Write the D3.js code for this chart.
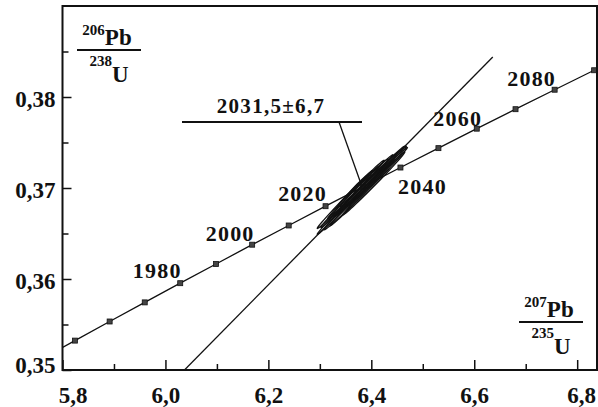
<!DOCTYPE html>
<html>
<head>
<meta charset="utf-8">
<script src="https://cdn.jsdelivr.net/npm/d3@7"></script>
<style>
  body { margin: 0; background: #fff; }
  text { font-family: "Liberation Serif", "DejaVu Serif", serif; font-weight: bold; fill: #111; }
</style>
</head>
<body>
<div id="chart"></div>
<script>
// concordia points, every 10 Ma (207Pb/235U, 206Pb/238U)
const ages = [1940, 1950, 1960, 1970, 1980, 1990, 2000, 2010, 2020, 2030, 2040, 2050, 2060, 2070, 2080, 2090];
const pb207u235 = [5.7572, 5.8241, 5.8916, 5.9598, 6.0287, 6.0983, 6.1685, 6.2395, 6.3111, 6.3835, 6.4566, 6.5304, 6.6049, 6.6802, 6.7562, 6.8329];
const pb206u238 = [0.35113, 0.35323, 0.35533, 0.35743, 0.35954, 0.36165, 0.36377, 0.36588, 0.36800, 0.37013, 0.37225, 0.37438, 0.37652, 0.37866, 0.38080, 0.38294];
const labelledAges = [1980, 2000, 2020, 2040, 2060, 2080];

// discordia end points
const discX = [6.037, 6.636];
const discY = [0.35, 0.3844];

// error ellipses: centre, sigma and correlation
const ellX   = [6.380, 6.372, 6.390, 6.365, 6.395, 6.385, 6.370, 6.400, 6.360, 6.378, 6.388, 6.368, 6.405];
const ellSx  = [0.085, 0.070, 0.060, 0.050, 0.075, 0.040, 0.030, 0.045, 0.065, 0.055, 0.080, 0.035, 0.060];
const ellY   = [0.36975, 0.36965, 0.37035, 0.36950, 0.37015, 0.37010, 0.36970, 0.37065, 0.36930, 0.37000, 0.37000, 0.36985, 0.37050];
const ellSy  = [0.00485, 0.00400, 0.00345, 0.00290, 0.00430, 0.00235, 0.00175, 0.00260, 0.00375, 0.00318, 0.00460, 0.00205, 0.00345];
const ellRho = [0.997, 0.996, 0.995, 0.994, 0.997, 0.990, 0.985, 0.993, 0.996, 0.992, 0.995, 0.988, 0.996];

const xTicks = [5.8, 6.0, 6.2, 6.4, 6.6, 6.8];
const xMinor = [5.9, 6.1, 6.3, 6.5, 6.7];
const yTicks = [0.35, 0.36, 0.37, 0.38];
const yMinor = [0.355, 0.365, 0.375, 0.385];
const fmt = d => d3.format(".2~f")(d).replace(".", ",");
const fmtX = d => d3.format(".1f")(d).replace(".", ",");

const width = 598, height = 407;
const mLeft = 62.5, mRight = 597, mTop = 6, mBottom = 370;

const svg = d3.select("#chart").append("svg")
  .attr("width", width)
  .attr("height", height);

const x = d3.scaleLinear().domain([5.8, 6.8385]).range([mLeft, mRight]);
const y = d3.scaleLinear().domain([0.35, 0.39]).range([mBottom, mTop]);

svg.append("clipPath").attr("id", "clip")
  .append("rect")
  .attr("x", mLeft).attr("y", mTop)
  .attr("width", mRight - mLeft).attr("height", mBottom - mTop);

const plot = svg.append("g").attr("clip-path", "url(#clip)");

// concordia
const conc = ages.map((a, i) => ({ age: a, x: pb207u235[i], y: pb206u238[i] }));
plot.append("path")
  .datum(conc)
  .attr("fill", "none")
  .attr("stroke", "#111")
  .attr("stroke-width", 1.3)
  .attr("d", d3.line().x(d => x(d.x)).y(d => y(d.y)));

plot.selectAll("rect.mark")
  .data(conc)
  .enter()
  .append("rect")
  .attr("class", "mark")
  .attr("x", d => x(d.x) - 2.5)
  .attr("y", d => y(d.y) - 2.5)
  .attr("width", 5)
  .attr("height", 5)
  .attr("fill", "#444")
  .attr("stroke", "#111")
  .attr("stroke-width", 0.8);

// discordia
plot.append("line")
  .attr("x1", x(discX[0])).attr("y1", y(discY[0]))
  .attr("x2", x(discX[1])).attr("y2", y(discY[1]))
  .attr("stroke", "#111")
  .attr("stroke-width", 1.3);

// ellipses
const ell = ellX.map((cx, i) => {
  const pts = d3.range(0, 361, 6).map(deg => {
    const t = deg * Math.PI / 180;
    return [cx + ellSx[i] * Math.cos(t),
            ellY[i] + ellSy[i] * (ellRho[i] * Math.cos(t) + Math.sqrt(1 - ellRho[i] * ellRho[i]) * Math.sin(t))];
  });
  return pts;
});
plot.selectAll("path.ell")
  .data(ell)
  .enter()
  .append("path")
  .attr("class", "ell")
  .attr("fill", "none")
  .attr("stroke", "#111")
  .attr("stroke-width", 1.3)
  .attr("d", d3.line().x(d => x(d[0])).y(d => y(d[1])).curve(d3.curveLinearClosed));

// age labels
const offs = { 1980: [-23, -5], 2000: [-22, -4], 2020: [-23, -5], 2040: [22, 26], 2060: [-19, -3], 2080: [-23, -4] };
svg.selectAll("text.age")
  .data(conc.filter(d => labelledAges.includes(d.age)))
  .enter()
  .append("text")
  .attr("class", "age")
  .attr("x", d => x(d.x) + offs[d.age][0])
  .attr("y", d => y(d.y) + offs[d.age][1])
  .attr("text-anchor", "middle")
  .attr("font-size", 22)
  .attr("letter-spacing", 1.2)
  .text(d => d.age);

// annotation of intercept age
svg.append("text")
  .attr("x", 271).attr("y", 113)
  .attr("text-anchor", "middle")
  .attr("font-size", 21)
  .attr("letter-spacing", 1.3)
  .text("2031,5±6,7");
svg.append("line")
  .attr("x1", 182).attr("y1", 122).attr("x2", 362).attr("y2", 122)
  .attr("stroke", "#111").attr("stroke-width", 2);
svg.append("line")
  .attr("x1", 339).attr("y1", 122).attr("x2", 360).attr("y2", 181)
  .attr("stroke", "#111").attr("stroke-width", 1.3);

// axes
const xAxis = svg.append("g")
  .attr("transform", `translate(0,${mBottom})`)
  .call(d3.axisBottom(x).tickValues(xTicks).tickSizeInner(-10).tickSizeOuter(0).tickPadding(17).tickFormat(fmtX));
svg.append("g")
  .attr("transform", `translate(0,${mBottom})`)
  .call(d3.axisBottom(x).tickValues(xMinor).tickSizeInner(-6).tickSizeOuter(0).tickFormat(""))
  .select(".domain").remove();
xAxis.select(".domain").remove();
xAxis.selectAll(".tick text")
  .attr("font-size", 23)
  .attr("dx", d => d === 5.8 ? 10 : d === 6.8 ? 4 : 0);

const yAxis = svg.append("g")
  .attr("transform", `translate(${mLeft},0)`)
  .call(d3.axisLeft(y).tickValues(yTicks).tickSizeInner(-9).tickSizeOuter(0).tickPadding(7).tickFormat(fmt));
svg.append("g")
  .attr("transform", `translate(${mLeft},0)`)
  .call(d3.axisLeft(y).tickValues(yMinor).tickSizeInner(-6).tickSizeOuter(0).tickFormat(""))
  .select(".domain").remove();
yAxis.select(".domain").remove();
yAxis.selectAll(".tick text")
  .attr("font-size", 23)
  .attr("dy", d => d === 0.35 ? "0.1em" : "0.4em");

svg.selectAll(".tick line").attr("stroke", "#111").attr("stroke-width", 1.5);
svg.selectAll(".tick text").attr("fill", "#111").attr("font-family", "Liberation Serif").attr("font-weight", "bold");

// frame
svg.append("rect")
  .attr("x", mLeft).attr("y", mTop)
  .attr("width", mRight - mLeft).attr("height", mBottom - mTop)
  .attr("fill", "none")
  .attr("stroke", "#111")
  .attr("stroke-width", 2);

// axis titles as fractions
function frac(cx, lineY, sup1, main1, sup2, main2) {
  const g = svg.append("g");
  g.append("text").attr("x", cx - 2).attr("y", lineY - 5).attr("text-anchor", "middle")
    .attr("font-size", 23)
    .call(t => {
      t.append("tspan").attr("font-size", 15).attr("dy", -10).text(sup1);
      t.append("tspan").attr("dy", 10).text(main1);
    });
  g.append("line").attr("x1", cx - 32).attr("x2", cx + 32).attr("y1", lineY).attr("y2", lineY)
    .attr("stroke", "#111").attr("stroke-width", 2);
  g.append("text").attr("x", cx).attr("y", lineY + 32).attr("text-anchor", "middle")
    .attr("font-size", 23)
    .call(t => {
      t.append("tspan").attr("font-size", 15).attr("dy", -16).text(sup2);
      t.append("tspan").attr("dy", 16).text(main2);
    });
}
frac(109, 50, "206", "Pb", "238", "U");
frac(551, 322, "207", "Pb", "235", "U");
</script>
</body>
</html>
